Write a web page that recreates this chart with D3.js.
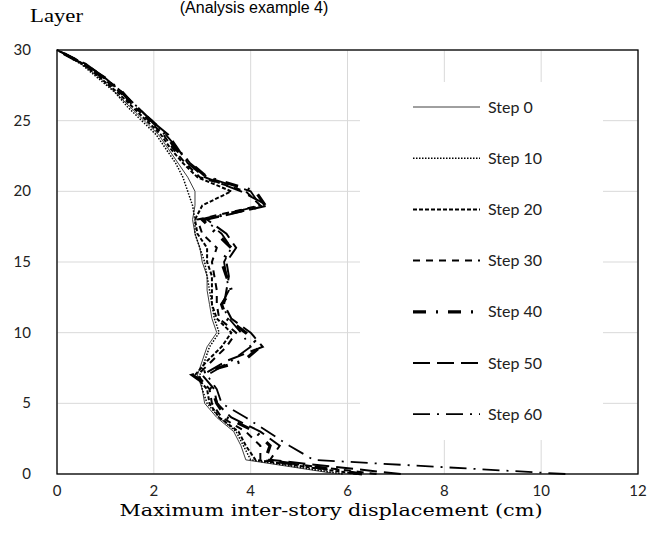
<!DOCTYPE html>
<html>
<head>
<meta charset="utf-8">
<script src="https://cdn.jsdelivr.net/npm/d3@7"></script>
<style>
body { margin: 0; background: #fff; }
</style>
</head>
<body>
<svg width="664" height="542"></svg>
<script>
// layer 0 .. 30
var layers = d3.range(0, 31);

var step0  = [5.8, 3.9, 3.8, 3.65, 3.3, 3.05, 3.0, 2.9, 3.0, 3.1, 3.3, 3.2, 3.15, 3.1, 3.1, 3.0, 2.95, 2.85, 2.8, 2.85, 2.85, 2.7, 2.5, 2.3, 2.1, 1.8, 1.5, 1.2, 0.9, 0.5, 0];
var step10 = [5.9, 4.0, 3.85, 3.7, 3.35, 3.1, 3.0, 2.95, 3.05, 3.15, 3.35, 3.25, 3.2, 3.15, 3.1, 3.05, 2.95, 2.85, 2.85, 2.8, 2.7, 2.6, 2.45, 2.25, 2.05, 1.75, 1.45, 1.2, 0.85, 0.5, 0];
var step20 = [6.2, 4.1, 3.9, 3.75, 3.35, 3.15, 3.1, 2.85, 3.1, 3.4, 3.6, 3.3, 3.2, 3.2, 3.2, 3.1, 3.1, 2.9, 2.85, 3.0, 3.6, 2.9, 2.6, 2.35, 2.15, 1.85, 1.55, 1.25, 0.9, 0.55, 0];
var step30 = [6.6, 4.2, 4.2, 3.9, 3.4, 3.2, 3.15, 2.9, 3.2, 3.5, 3.7, 3.35, 3.3, 3.3, 3.25, 3.2, 3.3, 3.0, 2.9, 4.2, 3.9, 2.95, 2.65, 2.4, 2.2, 1.9, 1.6, 1.3, 0.95, 0.55, 0];
var step40 = [6.3, 4.3, 4.4, 4.1, 3.5, 3.3, 3.2, 2.8, 3.85, 4.2, 3.9, 3.5, 3.4, 3.6, 3.5, 3.4, 3.6, 3.3, 3.0, 4.3, 4.1, 3.1, 2.75, 2.45, 2.25, 1.95, 1.6, 1.35, 1.0, 0.55, 0];
var step50 = [7.1, 4.4, 4.6, 4.2, 3.6, 3.3, 3.25, 3.0, 3.5, 4.25, 4.0, 3.6, 3.45, 3.5, 3.55, 3.5, 3.7, 3.5, 3.1, 4.35, 3.8, 3.05, 2.7, 2.5, 2.3, 1.95, 1.65, 1.35, 1.0, 0.6, 0];
var step60 = [10.5, 5.3, 4.8, 4.35, 3.9, 3.4, 3.3, 3.1, 3.6, 4.0, 3.8, 3.55, 3.4, 3.55, 3.5, 3.45, 3.6, 3.4, 3.05, 4.2, 4.0, 3.1, 2.75, 2.5, 2.25, 1.95, 1.65, 1.35, 1.0, 0.6, 0];

var names = ["Step 0", "Step 10", "Step 20", "Step 30", "Step 40", "Step 50", "Step 60"];
var xTicks = [0, 2, 4, 6, 8, 10, 12];
var yTicks = [0, 5, 10, 15, 20, 25, 30];

var series = [step0, step10, step20, step30, step40, step50, step60];
var styles = [
    {dash: null, width: 1, color: "#404040"},
    {dash: "1.5,1.5", width: 1.5, color: "#000"},
    {dash: "4,2", width: 2, color: "#000"},
    {dash: "7,6", width: 2, color: "#000"},
    {dash: "13,10,2,10", width: 3.2, color: "#000"},
    {dash: "17,7", width: 2, color: "#000"},
    {dash: "17,7,2,7", width: 1.8, color: "#000"}
];

var svg = d3.select("svg");

var x = d3.scaleLinear().domain([0, 12]).range([57, 638]);
var y = d3.scaleLinear().domain([0, 30]).range([474, 50]);

// grid
svg.append("g").selectAll("line")
    .data(xTicks)
    .enter().append("line")
    .attr("x1", function (d) { return x(d); })
    .attr("x2", function (d) { return x(d); })
    .attr("y1", y(0))
    .attr("y2", y(30))
    .attr("stroke", "#d9d9d9")
    .attr("stroke-width", 1);

svg.append("g").selectAll("line")
    .data(yTicks)
    .enter().append("line")
    .attr("x1", x(0))
    .attr("x2", x(12))
    .attr("y1", function (d) { return y(d); })
    .attr("y2", function (d) { return y(d); })
    .attr("stroke", "#d9d9d9")
    .attr("stroke-width", 1);

// legend background covers the grid
svg.append("rect")
    .attr("x", 360).attr("y", 82)
    .attr("width", 243).attr("height", 358)
    .attr("fill", "#fff");

// frame
svg.append("rect")
    .attr("x", x(0)).attr("y", y(30))
    .attr("width", x(12) - x(0)).attr("height", y(0) - y(30))
    .attr("fill", "none")
    .attr("stroke", "#000")
    .attr("stroke-width", 1.3);

// tick labels
svg.append("g").selectAll("text")
    .data(xTicks)
    .enter().append("text")
    .attr("x", function (d) { return x(d); })
    .attr("y", 496)
    .attr("text-anchor", "middle")
    .style("font-family", "Lato, 'Open Sans', sans-serif")
    .style("font-size", "15px")
    .attr("fill", "#222")
    .text(function (d) { return d; });

svg.append("g").selectAll("text")
    .data(yTicks)
    .enter().append("text")
    .attr("x", 31)
    .attr("y", function (d) { return y(d) + 5; })
    .attr("text-anchor", "end")
    .style("font-family", "Lato, 'Open Sans', sans-serif")
    .style("font-size", "15px")
    .attr("fill", "#222")
    .text(function (d) { return d; });

// lines
var line = d3.line()
    .x(function (d) { return x(d[0]); })
    .y(function (d) { return y(d[1]); });

series.forEach(function (s, i) {
    var pts = s.map(function (v, k) { return [v, layers[k]]; });
    svg.append("path")
        .datum(pts)
        .attr("d", line)
        .attr("fill", "none")
        .attr("stroke", styles[i].color)
        .attr("stroke-width", styles[i].width)
        .attr("stroke-dasharray", styles[i].dash);
});

// legend
var leg = svg.append("g").selectAll("g")
    .data(names)
    .enter().append("g")
    .attr("transform", function (d, i) { return "translate(0," + (107 + i * 51.2) + ")"; });

leg.append("line")
    .attr("x1", 413).attr("x2", 480)
    .attr("y1", 0).attr("y2", 0)
    .attr("stroke", function (d, i) { return styles[i].color; })
    .attr("stroke-width", function (d, i) { return styles[i].width; })
    .attr("stroke-dasharray", function (d, i) { return styles[i].dash; });

leg.append("text")
    .attr("x", 488)
    .attr("y", 5.5)
    .style("font-family", "Lato, 'Open Sans', sans-serif")
    .style("font-size", "16px")
    .attr("fill", "#222")
    .text(function (d) { return d; });

// titles
svg.append("text")
    .attr("x", 254).attr("y", 13)
    .attr("text-anchor", "middle")
    .style("font-family", "'Liberation Sans', Arial, sans-serif")
    .style("font-size", "16px")
    .attr("fill", "#000")
    .text("(Analysis example 4)");

svg.append("text")
    .attr("x", 30).attr("y", 22)
    .attr("textLength", 53)
    .attr("lengthAdjust", "spacingAndGlyphs")
    .style("font-family", "'Liberation Serif', serif")
    .style("font-size", "19px")
    .attr("fill", "#000")
    .text("Layer");

svg.append("text")
    .attr("x", 331).attr("y", 516)
    .attr("text-anchor", "middle")
    .attr("textLength", 423)
    .attr("lengthAdjust", "spacingAndGlyphs")
    .style("font-family", "'DejaVu Serif', serif")
    .style("font-size", "17px")
    .attr("fill", "#000")
    .text("Maximum inter-story displacement (cm)");
</script>
</body>
</html>
